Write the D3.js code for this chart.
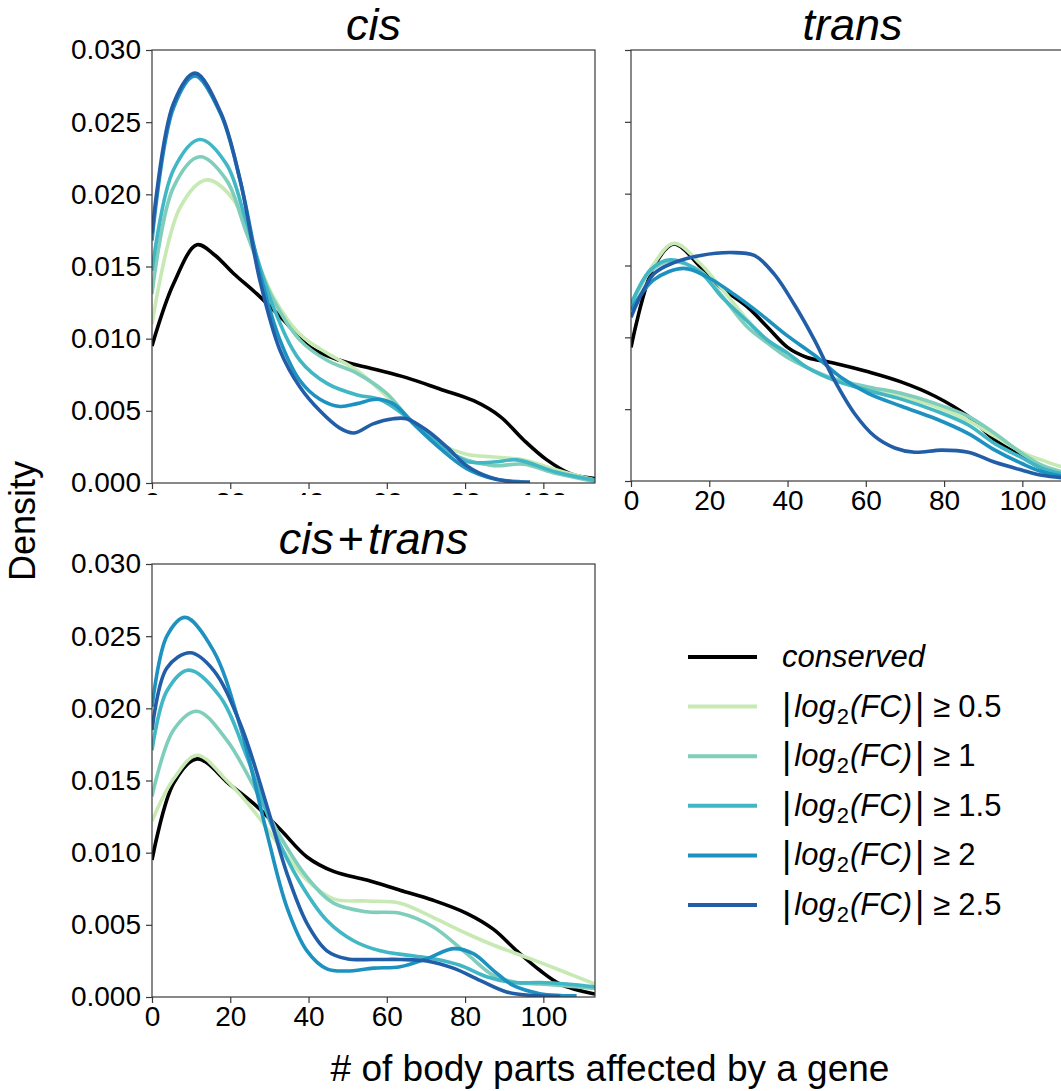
<!DOCTYPE html>
<html>
<head>
<meta charset="utf-8">
<script src="https://cdn.jsdelivr.net/npm/d3@7"></script>
<style>
  body { margin: 0; background: #fff; }
  svg { display: block; font-family: "Liberation Sans", Arial, sans-serif; }
  .tick text { fill: #000; }
</style>
</head>
<body>
<svg id="chart" width="1061" height="1091"></svg>
<script>
// densities, [x, density]
const seriesNames = ['conserved', '0.5', '1', '1.5', '2', '2.5'];
const seriesColors = ['#000000', '#c7e9b4', '#7fcdbb', '#41b6c4', '#1d91c0', '#225ea8'];

const cisConserved = [[0,.0095],[5.5,.0138],[11.5,.0165],[16,.0158],[20.9,.0145],[26.8,.0131],[33.6,.0113],[40.4,.0094],[48,.0085],[56.6,.0079],[65,.0073],[73.7,.0065],[82.2,.0057],[89,.0046],[94.9,.0030],[100.9,.0016],[106.9,.00065],[113.2,.0003]];
const cisFc05 = [[0,.0110],[7.2,.0191],[14,.0210],[20.9,.0196],[25,.0168],[31,.0129],[37.8,.0103],[44.7,.0090],[52.4,.0078],[60,.0060],[66.8,.0041],[73.6,.0027],[80.4,.0020],[87.3,.0018],[95,.0016],[103.4,.0009],[113.2,.0002]];
const cisFc1 = [[0,.0131],[5.5,.0205],[12.2,.0226],[19,.0210],[24.2,.0173],[31,.0127],[37.8,.0099],[44.7,.0085],[52.4,.0076],[60,.0062],[66.8,.0041],[73.6,.0025],[80.4,.0016],[87.3,.0012],[95,.0013],[103.4,.00065],[113.2,.0001]];
const cisFc15 = [[0,.0147],[5.5,.0217],[12.2,.0238],[19,.0221],[24.2,.0180],[31,.0122],[37.8,.0085],[44.7,.0069],[52.4,.0061],[58.2,.0058],[65,.0046],[73.6,.0027],[80.4,.0015],[87.3,.00145],[93.2,.0016],[103.4,.00075],[113.2,.0002]];
const cisFc2 = [[0,.0168],[5.5,.0260],[11,.0282],[17.5,.0256],[22.5,.0210],[27.6,.0145],[32.7,.0099],[37.8,.0071],[42.9,.0058],[48,.0053],[52.4,.0055],[57.4,.0058],[61.6,.0055],[67.6,.0039],[73.6,.0024],[80.4,.0010],[87.3,.0003],[96.6,.00005]];
const cisFc25 = [[0,.0173],[5.5,.0263],[11,.0284],[17.5,.0257],[22.5,.0210],[27.6,.0140],[32.7,.0092],[37.8,.00665],[42.9,.0050],[48,.0038],[51.5,.00346],[56.5,.0041],[61.6,.00445],[65,.00445],[70.2,.00365],[75.3,.0025],[80.4,.0012],[86.3,.0004],[92.3,.00007],[96.6,.00005]];

const transConserved = [[0,.0093],[5.8,.0149],[11,.0165],[17.8,.0149],[22.9,.0135],[29.8,.0121],[34.9,.0107],[40,.0093],[45,.0086],[52,.0082],[60.6,.0076],[69,.0069],[77.7,.0059],[86.2,.0045],[93,.00285],[100,.0017],[105,.0009],[113.2,.0003]];
const transFc05 = [[0,.0121],[5.8,.0151],[11,.01655],[17.8,.0151],[22.9,.0135],[29.8,.0112],[34.9,.0098],[40,.0089],[45,.0079],[52,.0071],[60.6,.0064],[69,.0059],[77.7,.0052],[86.2,.0042],[93,.0031],[100,.0020],[105,.00145],[113.2,.0007]];
const transFc1 = [[0,.0123],[5,.0146],[10,.0153],[17.8,.0146],[22.9,.0130],[29.8,.0107],[34.9,.0096],[40,.0086],[45,.0079],[52,.0071],[60.6,.00655],[69,.0061],[77.7,.0054],[86.2,.0045],[93,.0033],[100,.0019],[105,.0011],[113.2,.0004]];
const transFc15 = [[0,.0123],[5,.0147],[10,.0154],[17.8,.0145],[22.9,.0129],[29.8,.0111],[34.9,.0098],[40,.0089],[45,.0079],[52,.0070],[60.6,.0063],[69,.0057],[77.7,.0049],[86.2,.0039],[93,.0026],[100,.0016],[105,.0009],[113.2,.0003]];
const transFc2 = [[0,.0119],[5.8,.0140],[13.5,.0148],[19.5,.0142],[26.3,.0130],[33.2,.0116],[40,.0101],[46.9,.00875],[53.7,.0072],[60.6,.0061],[69.1,.0052],[77.7,.00435],[86.2,.0033],[93,.00215],[100,.0012],[105,.00065],[113.2,.0002]];
const transFc25 = [[0,.0114],[5.8,.0144],[11,.0152],[17.8,.0157],[25.5,.0159],[31.5,.0157],[36.6,.0144],[41.7,.0123],[46.9,.0098],[52,.0070],[57.1,.0047],[62.3,.0031],[67.4,.0023],[72.5,.0020],[79.4,.00215],[86.2,.0020],[93,.0013],[100,.00075],[105,.0004],[113.2,.00015]];

const bothConserved = [[0,.0095],[5.5,.0148],[11.5,.0165],[20,.0147],[26,.0134],[32.8,.0116],[39.6,.0097],[46.4,.0087],[54.9,.0081],[63.4,.0074],[71.9,.0067],[80.4,.0058],[87.2,.0047],[93.2,.0032],[99.1,.00185],[104.3,.0009],[113.2,.0002]];
const bothFc05 = [[0,.0122],[5.5,.0151],[11.5,.01675],[19.1,.0150],[26,.0129],[32.8,.0104],[39.6,.0081],[46.4,.0068],[54.9,.00665],[63.4,.0065],[71.9,.0055],[80.4,.0044],[87.2,.0036],[93.2,.0030],[99.1,.0024],[104.3,.00185],[113.2,.0009]];
const bothFc1 = [[0,.0139],[5.5,.0185],[11.5,.0198],[19.1,.0178],[26,.0146],[32.8,.0111],[39.6,.0083],[46.4,.0065],[54.9,.0059],[63.4,.0058],[71.9,.00485],[80.4,.0030],[87.2,.0015],[93.2,.0010],[99.1,.0009],[104.3,.0008],[113.2,.0006]];
const bothFc15 = [[0,.0171],[3.8,.0212],[9.4,.02265],[17.4,.0208],[24.3,.0166],[31,.0116],[37.9,.0079],[44.7,.0053],[51.5,.0039],[58.3,.0032],[65.1,.0029],[71.9,.00265],[78.7,.0022],[85.5,.0014],[92.3,.0010],[99.1,.0010],[106,.0009],[113.2,.0007]];
const bothFc2 = [[0,.0201],[3.8,.0250],[8.5,.0263],[15.7,.0240],[22.6,.0187],[29.4,.0113],[34.5,.0062],[39.6,.0032],[44.7,.00195],[49.8,.0018],[56.6,.0020],[63.4,.0021],[70.2,.00265],[77,.00335],[82.1,.0030],[87.2,.00185],[92.3,.0008],[99.1,.00023],[104.3,.0001],[108.5,.00008]];
const bothFc25 = [[0,.0185],[3.8,.0228],[9.8,.02385],[15.7,.02265],[22.6,.0189],[29.4,.0132],[34.5,.00855],[39.6,.0051],[44.7,.0032],[49.8,.00265],[56.6,.0026],[63.4,.0026],[70.2,.0025],[77,.0020],[83.8,.00115],[90.6,.00035],[97.4,.0001],[104.3,.00005]];

const yTicks = [0, 0.005, 0.010, 0.015, 0.020, 0.025, 0.030];
const xTicks = [0, 20, 40, 60, 80, 100];
const xMax = 113.2;
const yMax = 0.030;

const legendLabels = ['conserved', '0.5', '1', '1.5', '2', '2.5'];

const panels = [
  { id: 'cis', title: ['cis'], left: 152, top: 50, width: 443, height: 433, yLabels: true, xClip: 495,
    series: [cisConserved, cisFc05, cisFc1, cisFc15, cisFc2, cisFc25] },
  { id: 'trans', title: ['trans'], left: 631, top: 50, width: 443, height: 431, yLabels: false, xClip: null,
    series: [transConserved, transFc05, transFc1, transFc15, transFc2, transFc25] },
  { id: 'both', title: ['cis', 'trans'], left: 152, top: 564, width: 443, height: 433, yLabels: true, xClip: null,
    series: [bothConserved, bothFc05, bothFc1, bothFc15, bothFc2, bothFc25] },
];

const svg = d3.select('#chart');
const defs = svg.append('defs');

function drawPanel(p) {
  const x = d3.scaleLinear().domain([0, xMax]).range([0, p.width]);
  const y = d3.scaleLinear().domain([0, yMax]).range([p.height, 0]);
  const g = svg.append('g').attr('transform', `translate(${p.left},${p.top})`);

  defs.append('clipPath').attr('id', 'clip-' + p.id)
    .append('rect').attr('x', 0).attr('y', -2).attr('width', p.width).attr('height', p.height + 2);

  const line = d3.line()
    .x(d => x(d[0]))
    .y(d => y(Math.max(0, d[1])))
    .curve(d3.curveCatmullRom.alpha(0.5));

  g.append('g')
    .attr('clip-path', `url(#clip-${p.id})`)
    .selectAll('path')
    .data(p.series)
    .join('path')
    .attr('d', line)
    .attr('fill', 'none')
    .attr('stroke', (_, i) => seriesColors[i])
    .attr('stroke-width', 3.6)
    .attr('stroke-linejoin', 'round')
    .attr('stroke-linecap', 'butt');

  // frame
  g.append('rect')
    .attr('width', p.width).attr('height', p.height)
    .attr('fill', 'none').attr('stroke', '#3a3a3a').attr('stroke-width', 1.2);

  const yAxis = d3.axisLeft(y).tickValues(yTicks).tickSize(6).tickPadding(5)
    .tickFormat(p.yLabels ? d3.format('.3f') : () => '');
  const ya = g.append('g').call(yAxis);
  ya.select('.domain').remove();

  const xAxis = d3.axisBottom(x).tickValues(xTicks).tickSize(6).tickPadding(3);
  const xa = g.append('g').attr('transform', `translate(0,${p.height})`).call(xAxis);
  xa.select('.domain').remove();
  if (p.xClip) {
    // the lower panel hides most of these labels
    defs.append('clipPath').attr('id', 'xclip-' + p.id)
      .append('rect').attr('x', -40).attr('y', 0).attr('width', p.width + 80).attr('height', p.xClip - p.top - p.height);
    xa.attr('clip-path', `url(#xclip-${p.id})`);
  }

  svg.selectAll('.tick line').attr('stroke', '#3a3a3a').attr('stroke-width', 1.2);
  svg.selectAll('.tick text').attr('font-size', 28).attr('font-family', '"Liberation Sans", Arial, sans-serif');

  const t = g.append('text')
    .attr('x', p.width / 2)
    .attr('y', -10)
    .attr('text-anchor', 'middle')
    .attr('font-size', 45);
  p.title.forEach((part, i) => {
    if (i > 0) t.append('tspan').attr('dx', 4).text('+');
    t.append('tspan').attr('font-style', 'italic').attr('dx', i > 0 ? 4 : 0).text(part);
  });
}

panels.forEach(drawPanel);

// axis labels
svg.append('text')
  .attr('transform', 'translate(35,521) rotate(-90)')
  .attr('text-anchor', 'middle')
  .attr('font-size', 36)
  .text('Density');

svg.append('text')
  .attr('x', 610)
  .attr('y', 1081)
  .attr('text-anchor', 'middle')
  .attr('font-size', 37)
  .text('# of body parts affected by a gene');

// legend
const legend = svg.append('g').attr('transform', 'translate(688,657)');
const items = legend.selectAll('g')
  .data(legendLabels)
  .join('g')
  .attr('transform', (_, i) => `translate(0,${i * 49.6})`);

items.append('line')
  .attr('x1', 0).attr('x2', 69)
  .attr('stroke', (_, i) => seriesColors[i])
  .attr('stroke-width', 4);

items.each(function (d, i) {
  const t = d3.select(this).append('text')
    .attr('x', 94)
    .attr('y', 10)
    .attr('font-size', 31);
  if (i === 0) {
    t.attr('font-style', 'italic').text(d);
    return;
  }
  t.append('tspan').attr('font-size', 36).attr('dy', 2).text('|');
  t.append('tspan').attr('font-style', 'italic').attr('dx', 3).attr('dy', -2).text('log');
  t.append('tspan').attr('font-size', 22).attr('dx', 1).attr('dy', 7).text('2');
  t.append('tspan').attr('font-style', 'italic').attr('dx', 1).attr('dy', -7).text('(FC)');
  t.append('tspan').attr('font-size', 36).attr('dx', 3).attr('dy', 2).text('|');
  t.append('tspan').attr('dx', 9).attr('dy', -2).text('\u2265');
  t.append('tspan').attr('dx', 8).text(d);
});
</script>
</body>
</html>
